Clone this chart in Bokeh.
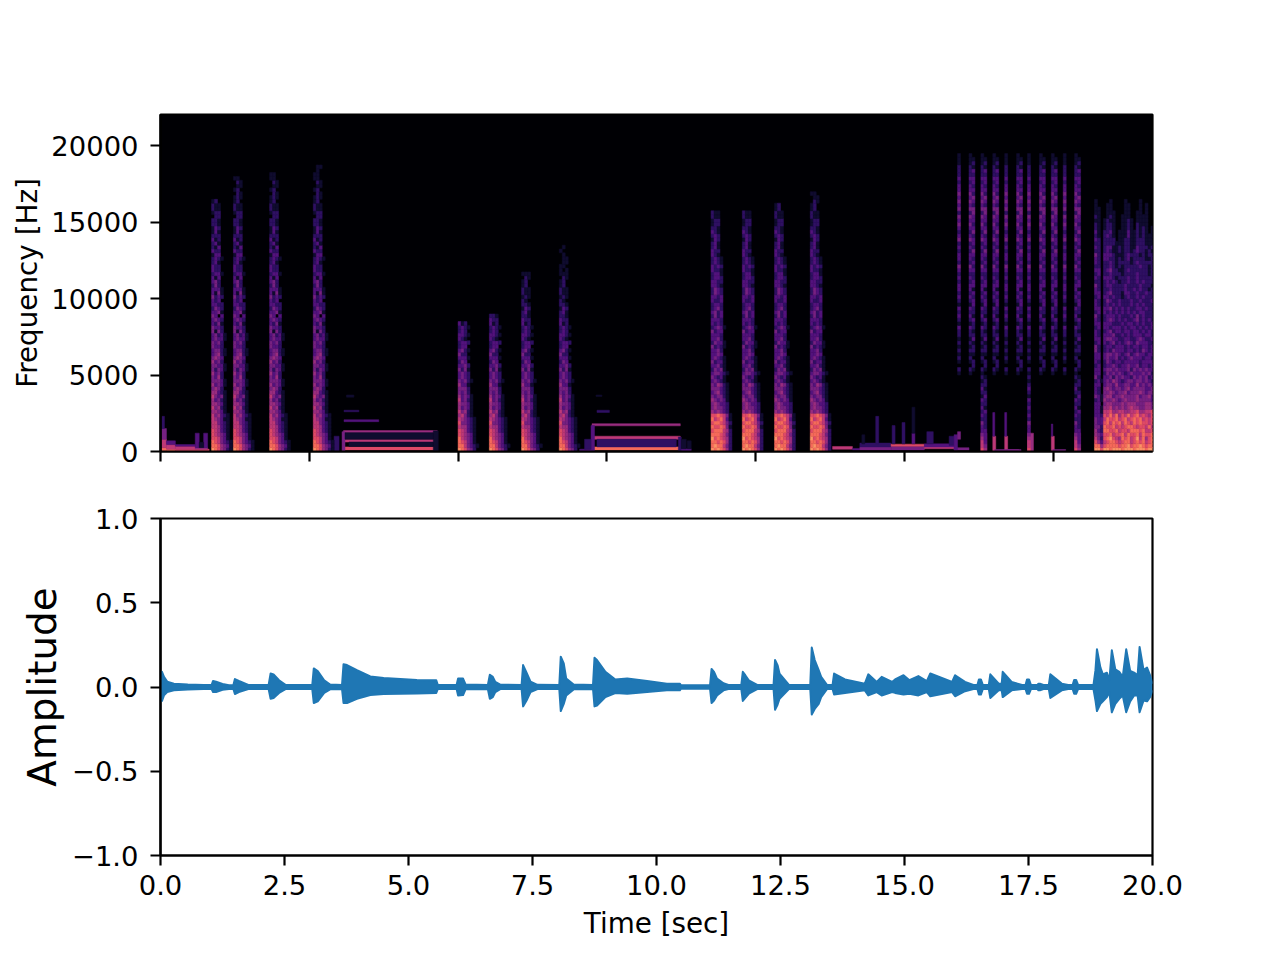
from bokeh.plotting import figure
from bokeh.layouts import column
from bokeh.embed import file_html
from bokeh.resources import INLINE
from bokeh.models import FixedTicker, Range1d, ColumnDataSource
from bokeh.palettes import Magma256

# ---------- spectrogram values ----------
# each row is a 250 Hz band (bottom first), each digit a 0.06 s cell, level 0-9
KICK_A = ["9875421","8875431","8764321","7764310","7654310","7653210","6653210","6643210",
          "6543110","6453210","5543100","6452100","5543100","5342100","6434100","5532100",
          "4542000","5343100","4443100","4352000","5342000","4243100","4433100","5342000",
          "4543000","3452100","3442100","4332000","4342000","3433100","3423100","4142000",
          "4332000","3241000","3432000","4303000","3341000","2432000","3322000","3230000",
          "4232000","3141000","3331000","2420000","3420000","3130000","2331000","3220000",
          "3220000","2310000","2321000","1330000","3220000","2130000","2310000","3120000",
          "2220000","1310000","1320000","2210000","2210000","0220000","1220000","2110000",
          "2110000","1200000","1210000","0210000","1200000","0110000","0210000","1100000",
          "1100000","0100000","0110000","0100000","0100000","0010000"]
KICK_B = ["9875420","8864321","8764310","8654310","7654310","7653210","6553210","7443210",
          "6543210","5642100","6452100","5343100","5443100","6342100","5343100","4342000",
          "4442000","5331000","4342100","3432000","3432000","4241000","3342000","2430000",
          "3331000","4220000","3421000","2330000","2332000","3210000","3321000","2320000",
          "2321000","3120000","3220000","2210000","2310000","1320000","2210000","2100000",
          "1210000","2110000","2110000","1200000","1200000","0210000","1110000","1010000",
          "1100000","0110000","0110000","0100000","1000000","0100000"]
KICK_C = ["9898752","8988642","8878752","9787652","8887642","7888652","8778741","7887642",
          "8678631","7787641","5454320","4544320","4543320","5434310","4344210","3453210",
          "4443210","4354210","3432100","4323100","3443210","2434100","3342100","4233100",
          "3432100","3343000","3342000","4232100","2433100","3342000","3332000","4233000",
          "2343100","3232000","3332000","2423000","3423000","2342000","2332000","3223000",
          "3323000","2432000","2432000","3321000","3322000","2332000","2331000","3221000",
          "3232000","2321000","2321000","3210000","3220000","2310000","2310000","1320000",
          "2320000","3210000","2210000","1220000","1220000","2110000","2110000","1200000",
          "1200000","0210000","0110000","1100000"]
THIN = ["75","64","63","53",
        "43","33","32","42","22","32","23","31","22","32","13","22","31","22","12","21",
        "10","21","02","12","20","11","22","12","21","13","22","21","32","12","23","31","22","32","13","23",
        "32","23","31","33","23","32","22","33","42","23","32","33","24","32","23","43","32","24","33","42",
        "33","43","24","44","32","43","34","42","33","32","23","33","22","23","21","12","11","10"]
BLOCK = ["99799899989998999899","88578888788978898788","75367887678867878678",
         "64278976587867968578","54377867786877868778","53288778677688878667",
         "44287786767887677686","43378687868768787767","43368778678678786767",
         "33276868576867867657","33166755665566755667",
         "33155645454565544554","33045544454555444554","23154454345444544443",
         "43145534454444534453","32044543445344454344","32045434434534444334",
         "33034435334433534343","23134354323443443432","42033424343324343423",
         "33024343432343334342","33034434333424343433","23023343233433423323",
         "32024323323333323333","33034334232343332332","33034434323423433233",
         "42023243332332324323","42023323332323323323","23032342323432433322",
         "33034433223322343223","32033342232323332332","32023423323323323232",
         "23033233323233232323","33033322232332323223","32023432323223423232",
         "42023332322232423222","23032323232323233222","33033423232322332322",
         "32023232322232323222","32024322322232232223","23033232212322323222",
         "33023422213322322322","32022322223223232212","42023322223222232221",
         "22023232122322323222","32033321222322322222","23022322212222322212",
         "33023422112322222212",
         "22022321212222232212","32022321222212322222","32033221212312222112",
         "42033321112322212122","22023211212212322121","32023311212211322212",
         "22022221112211222111","32022220112211222111","21023210111311212111",
         "31022310111311212101","21012210011210212101","21012210011210211100",
         "11012110011210111100","21001210011100111100","11001110001100110100",
         "11001100001100010100","10001100001100010100","10000100001000010000"]

kick_a_times = [1.03, 1.47, 2.20, 3.08]
kick_a_tops = [16400, 17800, 18200, 18700]
kick_b_times = [6.00, 6.63, 7.28, 8.04]
kick_b_tops = [8500, 9000, 11600, 13500]
kick_c_times = [11.10, 11.73, 12.38, 13.10]
kick_c_tops = [15700, 15700, 16200, 17000]
thin_times = [16.07, 16.30, 16.54, 16.78, 17.02, 17.26, 17.48, 17.72, 17.96, 18.20, 18.43]
thin_floors = [5000, 5000, 0, 5000, 5000, 5000, 0, 5000, 5000, 5000, 0]
thin_widths = [1, 2, 2, 2, 1, 2, 1, 2, 2, 1, 2]
block_time = 18.83

# sustained notes and small events: start, end, low Hz, high Hz, level
seg_t0 = [0.03,0.03,0.03,0.03, 0.12,0.12,0.12, 0.30,0.30,0.70,0.30, 0.70,0.87,0.78,
          3.69,3.69,3.69,3.70,3.70,3.75,3.66,5.50,3.80,3.72,3.50,
          8.70,8.70,8.70,8.80,8.78,8.68,8.80,10.44,8.45,8.55,10.50,10.50,10.62,
          13.55,13.95,14.10,14.10,14.73,14.73,15.40,15.40,16.00,
          14.14,14.42,14.75,14.95,15.15,15.15,15.45,15.90,16.00,
          16.78,16.78,17.02,17.02,17.96,17.96,16.82,17.06,17.99,16.54,17.48,18.43,16.07]
seg_t1 = [0.12,0.12,0.12,0.08, 0.30,0.30,0.30, 0.98,0.70,0.95,0.70, 0.78,0.95,0.87,
          5.58,5.58,5.58,4.40,4.00,3.90,3.72,5.60,5.50,5.50,3.60,
          10.48,10.48,10.48,9.05,8.90,8.75,10.40,10.50,8.70,8.68,10.70,10.60,10.70,
          13.95,14.10,14.73,14.73,15.40,15.40,16.00,16.00,16.30,
          14.20,14.48,14.81,15.01,15.21,15.21,15.58,16.00,16.07,
          16.84,16.82,17.08,17.06,18.02,17.99,17.30,17.35,18.25,16.66,17.60,18.55,16.13]
seg_f0 = [0,250,800,1500, 0,150,450, 0,150,150,350, 250,250,250,
          100,620,1230,1950,2600,3550,0,0,330,800,0,
          100,800,1680,2550,3600,0,300,0,0,150,0,180,180,
          150,100,100,300,100,350,180,300,100,
          500,500,500,500,500,1200,500,400,100,
          0,1000,0,1000,0,1000,0,0,0,0,0,0,800]
seg_f1 = [250,800,1500,2300, 150,450,700, 150,350,250,450, 1200,1200,600,
          300,780,1370,2080,2700,3700,1300,1350,620,1230,1000,
          300,1000,1820,2700,3700,1700,800,950,150,800,180,800,700,
          330,200,300,550,350,480,320,500,250,
          1100,2300,1700,1900,1200,2900,1300,1000,1100,
          1000,2550,1000,2550,1000,1800,130,130,130,1200,1200,1200,1300]
seg_level = [8,6,4,2, 8,6,3, 7,6,5,3, 3,3,1,
             7,6,5,3,2,1,4,1,1,1,2,
             8,6,5,2,1,3,2,2,3,2,3,1,1,
             6,3,4,2,4,7,6,3,4,
             1,2,2,2,3,1,2,2,3,
             6,3,6,3,6,3,4,4,4,5,5,5,4]

# ---------- waveform values ----------
wave_t = [0.00,0.03,0.07,0.135,0.27,0.55,0.87,1.03,1.06,1.12,1.25,1.38,1.47,1.50,1.58,1.77,
          2.18,2.22,2.28,2.39,2.52,3.06,3.09,3.17,3.30,3.42,3.66,3.69,3.76,3.96,4.23,4.50,
          5.17,5.56,5.59,5.97,6.00,6.10,6.15,6.60,6.64,6.70,6.75,6.85,7.28,7.31,7.38,7.46,
          7.60,8.04,8.07,8.13,8.18,8.33,8.72,8.75,8.80,8.97,9.17,9.41,9.81,10.21,10.47,10.49,
          11.08,11.11,11.16,11.22,11.35,11.45,11.71,11.74,11.79,11.86,12.03,12.36,12.39,12.44,12.48,12.67,
          13.10,13.13,13.19,13.27,13.32,13.44,13.55,13.58,13.80,14.20,14.27,14.44,14.54,14.75,14.81,14.98,
          15.10,15.28,15.45,15.52,15.96,16.02,16.22,16.39,16.47,16.50,16.54,16.58,16.70,16.73,16.90,16.96,
          16.98,17.16,17.37,17.44,17.47,17.51,17.55,17.68,17.70,17.73,17.80,17.91,17.94,18.17,18.30,18.39,
          18.42,18.46,18.50,18.81,18.85,18.88,18.95,19.00,19.08,19.13,19.18,19.25,19.33,19.40,19.47,19.55,
          19.63,19.70,19.74,19.82,19.89,19.95,20.00]
wave_hi = [.09,.09,.06,.032,.02,.015,.012,.012,.036,.032,.018,.01,.012,.047,.036,.012,
           .012,.08,.075,.04,.013,.012,.11,.095,.04,.015,.012,.135,.13,.10,.063,.053,
           .042,.04,.013,.012,.05,.05,.015,.012,.073,.06,.03,.014,.012,.13,.085,.032,
           .013,.012,.18,.14,.05,.015,.012,.173,.16,.09,.044,.05,.035,.02,.02,.011,
           .011,.107,.09,.05,.022,.012,.012,.09,.07,.04,.012,.012,.16,.13,.08,.012,
           .012,.234,.16,.10,.06,.012,.012,.08,.045,.02,.075,.03,.06,.03,.045,.07,
           .04,.065,.035,.08,.03,.07,.03,.012,.012,.045,.045,.012,.012,.075,.02,.02,
           .09,.03,.012,.012,.045,.045,.012,.012,.02,.02,.012,.012,.075,.02,.012,.012,
           .042,.042,.012,.012,.10,.224,.115,.075,.085,.04,.218,.105,.09,.06,.224,.095,
           .085,.07,.238,.10,.115,.07,.02]
wave_lo = [-.083,-.083,-.05,-.03,-.02,-.015,-.012,-.012,-.03,-.03,-.016,-.012,-.012,-.042,-.03,-.012,
           -.012,-.07,-.065,-.035,-.012,-.012,-.095,-.085,-.035,-.014,-.012,-.095,-.095,-.07,-.048,-.042,
           -.038,-.035,-.012,-.012,-.05,-.048,-.014,-.012,-.07,-.06,-.03,-.012,-.012,-.115,-.08,-.03,
           -.012,-.012,-.143,-.10,-.05,-.014,-.012,-.115,-.11,-.06,-.036,-.04,-.03,-.02,-.02,-.011,
           -.011,-.095,-.08,-.05,-.02,-.012,-.012,-.083,-.065,-.04,-.012,-.012,-.135,-.105,-.07,-.012,
           -.012,-.163,-.13,-.10,-.06,-.012,-.012,-.045,-.035,-.02,-.05,-.03,-.05,-.03,-.035,-.045,
           -.04,-.05,-.03,-.055,-.03,-.055,-.025,-.012,-.012,-.045,-.045,-.012,-.012,-.065,-.02,-.02,
           -.06,-.02,-.012,-.012,-.04,-.04,-.012,-.012,-.02,-.02,-.012,-.012,-.065,-.02,-.012,-.012,
           -.04,-.04,-.012,-.012,-.08,-.143,-.10,-.085,-.06,-.03,-.15,-.10,-.07,-.05,-.15,-.085,
           -.05,-.05,-.15,-.08,-.085,-.06,-.02]

x_ticks_top = [0, 3, 6, 9, 12, 15, 18]
y_ticks_top = [0, 5000, 10000, 15000, 20000]
x_ticks_bottom = [0, 2.5, 5, 7.5, 10, 12.5, 15, 17.5, 20]
x_labels_bottom = ["0.0", "2.5", "5.0", "7.5", "10.0", "12.5", "15.0", "17.5", "20.0"]
y_ticks_bottom = [-1, -0.5, 0, 0.5, 1]
y_labels_bottom = ["\u22121.0", "\u22120.5", "0.0", "0.5", "1.0"]

TICK_PX = "27.4px"
LABEL_PX = "27.8px"
FONT = "DejaVu Sans"
CELL_T = 0.06
CELL_F = 250
LEVEL_STEP = 22

left, right, bottom, top, fill = [], [], [], [], []

def add_cell(t0, t1, f0, f1, level):
    left.append(t0); right.append(t1); bottom.append(f0); top.append(f1)
    fill.append(Magma256[level * LEVEL_STEP])

def add_table(table, t_start, f_top, f_floor=0, n_cols=None):
    for i, row in enumerate(table):
        f0 = i * CELL_F
        if f0 >= f_top or f0 < f_floor:
            continue
        for j, ch in enumerate(row[:n_cols]):
            if ch != "0":
                add_cell(t_start + j * CELL_T, t_start + (j + 1) * CELL_T, f0, f0 + CELL_F, int(ch))

for a, b, c, d, e in zip(seg_t0, seg_t1, seg_f0, seg_f1, seg_level):
    add_cell(a, b, c, d, e)
for t, f in zip(kick_a_times, kick_a_tops):
    add_table(KICK_A, t, f)
for t, f in zip(kick_b_times, kick_b_tops):
    add_table(KICK_B, t, f)
for t, f in zip(kick_c_times, kick_c_tops):
    add_table(KICK_C, t, f)
for t, fl, w in zip(thin_times, thin_floors, thin_widths):
    add_table(THIN, t, 19500, fl, w)
add_table(BLOCK, block_time, 16500)


def style(p):
    p.toolbar.logo = None
    p.grid.visible = False
    p.outline_line_color = "black"
    p.outline_line_width = 2.2
    p.background_fill_color = "white"
    p.border_fill_color = "white"
    for ax in (p.xaxis[0], p.yaxis[0]):
        ax.axis_line_width = 2.2
        ax.axis_line_color = "black"
        ax.major_tick_line_width = 2.2
        ax.major_tick_line_color = "black"
        ax.major_tick_out = 10
        ax.major_tick_in = 0
        ax.minor_tick_line_color = None
        ax.major_label_text_font = FONT
        ax.major_label_text_font_size = TICK_PX
        ax.major_label_text_color = "black"
        ax.axis_label_text_font = FONT
        ax.axis_label_text_font_style = "normal"
        ax.axis_label_text_color = "black"
        ax.axis_label_text_font_size = LABEL_PX


p1 = figure(width=1264, height=481, frame_width=992, frame_height=337,
            min_border_left=160, min_border_right=112, min_border_top=114, min_border_bottom=30,
            x_range=Range1d(0, 20), y_range=Range1d(0, 22050),
            toolbar_location=None, output_backend="svg")
style(p1)
p1.background_fill_color = "#000004"
p1.quad(source=ColumnDataSource(dict(left=left, right=right, bottom=bottom, top=top, fill=fill)),
        left="left", right="right", bottom="bottom", top="top",
        fill_color="fill", line_color="fill", line_width=0.5)
p1.xaxis[0].ticker = FixedTicker(ticks=x_ticks_top)
p1.xaxis[0].major_label_overrides = {t: "" for t in x_ticks_top}
p1.yaxis[0].ticker = FixedTicker(ticks=y_ticks_top)
p1.yaxis[0].major_label_standoff = 12
p1.yaxis[0].axis_label = "Frequency [Hz]"
p1.yaxis[0].axis_label_standoff = 4

p2 = figure(width=1264, height=464, frame_width=992, frame_height=337,
            min_border_left=160, min_border_right=112, min_border_top=37, min_border_bottom=90,
            x_range=Range1d(0, 20), y_range=Range1d(-1, 1),
            toolbar_location=None, output_backend="svg")
style(p2)
blue = "#1f77b4"
p2.varea(x=wave_t, y1=wave_lo, y2=wave_hi, fill_color=blue)
p2.line(x=wave_t, y=wave_hi, line_color=blue, line_width=2, line_join="round")
p2.line(x=wave_t, y=wave_lo, line_color=blue, line_width=2, line_join="round")
p2.xaxis[0].ticker = FixedTicker(ticks=x_ticks_bottom)
p2.xaxis[0].major_label_overrides = dict(zip(x_ticks_bottom, x_labels_bottom))
p2.xaxis[0].major_label_standoff = 9
p2.xaxis[0].axis_label = "Time [sec]"
p2.xaxis[0].axis_label_standoff = 9
p2.yaxis[0].ticker = FixedTicker(ticks=y_ticks_bottom)
p2.yaxis[0].major_label_overrides = dict(zip(y_ticks_bottom, y_labels_bottom))
p2.yaxis[0].major_label_standoff = 12
p2.yaxis[0].axis_label = "Amplitude"
p2.yaxis[0].axis_label_text_font_size = "38.9px"
p2.yaxis[0].axis_label_standoff = 4

open("out.html", "w").write(file_html(column(p1, p2, spacing=0), INLINE))
